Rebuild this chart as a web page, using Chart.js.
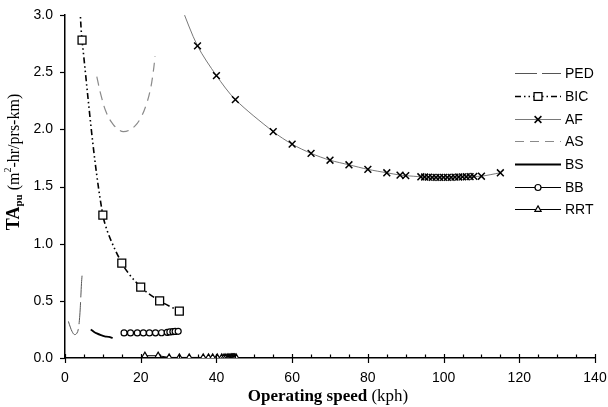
<!DOCTYPE html>
<html><head><meta charset="utf-8">
<script src="https://cdn.jsdelivr.net/npm/chart.js@4/dist/chart.umd.min.js"></script>
<style>html,body{margin:0;padding:0;background:#fff}#wrap{width:608px;height:407px;position:relative}</style>
</head><body><div id="wrap"><canvas id="c"></canvas></div>
<script>
// ---- data ----
const seriesNames = ['PED','BIC','AF','AS','BS','BB','RRT'];
const pedX = [0.9,1.4,1.9,2.5,3.1,3.5,3.8,4.0,4.2,4.35,4.5];
const pedY = [0.32,0.27,0.23,0.205,0.215,0.25,0.33,0.42,0.55,0.65,0.72];
const bicX = [3.9,4.5,10,15,20,25,30.2];
const bicY = [3.1,2.78,1.25,0.83,0.62,0.50,0.41];
const bicMarker = [false,true,true,true,true,true,true];
const afX = [30.6,35,40,45,55,60,65,70,75,80,85,88.5,90,94,95,96,97,98,99,100,101,102,103,104,105,106,107,108,110,115];
const afY = [3.08,2.73,2.47,2.26,1.98,1.87,1.79,1.73,1.69,1.65,1.62,1.60,1.595,1.585,1.583,1.582,1.58,1.58,1.58,1.58,1.58,1.58,1.582,1.583,1.584,1.585,1.586,1.588,1.59,1.62];
const afMarker = [false,true,true,true,true,true,true,true,true,true,true,true,true,true,true,true,true,true,true,true,true,true,true,true,true,true,true,true,true,true];
const asX = [8.4,9.5,11.0,12.8,14.5,15.4,16.8,18.5,20.0,21.3,22.5,23.3,23.8];
const asY = [2.46,2.30,2.14,2.04,1.99,1.98,1.99,2.03,2.10,2.20,2.34,2.50,2.64];
const bsX = [6.8,7.6,8.4,9.5,10.5,11.6,12.6];
const bsY = [0.25,0.23,0.215,0.20,0.19,0.185,0.175];
const bbX = [15.6,17.3,19.1,20.7,22.3,23.9,25.5,27.0,27.7,28.5,29.1,29.9];
const bbY = [0.219,0.219,0.219,0.219,0.219,0.22,0.221,0.225,0.228,0.23,0.232,0.233];
const rrtX = [21.1,24.6,27.5,30.2,32.8,36.5,37.9,39.0,40.2,41.4,42.0,42.5,43.0,43.3,43.6,43.9,44.1,44.3,44.5,44.7,44.9,45.2];
const rrtY = [0.02,0.02,0.005,0.005,0.005,0.005,0.005,0.005,0.005,0.005,0.005,0.005,0.005,0.005,0.005,0.005,0.005,0.005,0.005,0.005,0.005,0.005];
const xTicksMajor = [0,20,40,60,80,100,120,140];
const yTicks = [0,0.5,1.0,1.5,2.0,2.5,3.0];

const pts = (xs, ys) => xs.map((x, i) => ({x, y: ys[i]}));

const datasets = [
  {label:'PED', data:pts(pedX,pedY), borderColor:'#555', borderWidth:1, borderDash:[22,5], pointRadius:0, tension:0.4},
  {label:'BIC', data:pts(bicX,bicY), borderColor:'#000', borderWidth:1.6, borderDash:[6,3,1.5,3,1.5,3], pointStyle:'rect',
   pointRadius:bicMarker.map(m=>m?5.6:0), backgroundColor:'#fff', pointBackgroundColor:'#fff', pointBorderColor:'#000', pointBorderWidth:1.3, tension:0.3},
  {label:'AF', data:pts(afX,afY), borderColor:'#555', borderWidth:0.8, pointStyle:'crossRot',
   pointRadius:afMarker.map(m=>m?4.8:0), pointBorderColor:'#000', pointBorderWidth:1.5, tension:0.3},
  {label:'AS', data:pts(asX,asY), borderColor:'#8a8a8a', borderWidth:1.2, borderDash:[9,6], pointRadius:0, tension:0.4},
  {label:'BS', data:pts(bsX,bsY), borderColor:'#000', borderWidth:1.8, pointRadius:0, tension:0.4},
  {label:'BB', data:pts(bbX,bbY), borderColor:'#000', borderWidth:1, pointStyle:'circle', pointRadius:3,
   pointBackgroundColor:'#fff', backgroundColor:'#fff', pointBorderColor:'#000', pointBorderWidth:1.2},
  {label:'RRT', data:pts(rrtX,rrtY), borderColor:'#000', borderWidth:1, pointStyle:'triangle', pointRadius:3.6,
   pointBackgroundColor:'#fff', backgroundColor:'#fff', pointBorderColor:'#000', pointBorderWidth:1.2}
];
datasets.forEach(d => { d.showLine = true; d.fill = false; });

const AXIS_LEFT = 65, AXIS_BOTTOM_H = 49;

const decorPlugin = {
  id: 'decor',
  afterDraw(chart) {
    const ctx = chart.ctx, xs = chart.scales.x, ys = chart.scales.y, ca = chart.chartArea;
    ctx.save();
    ctx.strokeStyle = '#000'; ctx.lineWidth = 1.2;
    for (let v = 0; v <= 140; v += 5) {
      const px = Math.round(xs.getPixelForValue(v)) + 0.5;
      const major = xTicksMajor.includes(v);
      ctx.beginPath();
      ctx.moveTo(px, ca.bottom - (major ? 4 : 3.5));
      ctx.lineTo(px, ca.bottom + (major ? 5 : 0));
      ctx.stroke();
    }
    yTicks.forEach(v => {
      const py = Math.round(ys.getPixelForValue(v)) + 0.5;
      ctx.beginPath(); ctx.moveTo(ca.left - 5, py); ctx.lineTo(ca.left, py); ctx.stroke();
    });
    // legend
    const lx0 = 515, lx1 = 561, tx = 565;
    const ly = [73, 96, 119, 141, 164, 187, 209];
    ctx.font = '14px "Liberation Sans", Arial, sans-serif';
    ctx.textBaseline = 'middle'; ctx.textAlign = 'left';
    datasets.forEach((d, i) => {
      const y = ly[i] + 0.5;
      ctx.save();
      ctx.strokeStyle = d.borderColor; ctx.lineWidth = d.borderWidth;
      ctx.setLineDash(d.borderDash || []);
      ctx.beginPath(); ctx.moveTo(lx0, y); ctx.lineTo(lx1, y); ctx.stroke();
      ctx.restore();
      if (d.pointStyle) {
        const r = Array.isArray(d.pointRadius) ? Math.max(...d.pointRadius) : d.pointRadius;
        ctx.save();
        ctx.fillStyle = d.pointBackgroundColor || '#fff';
        ctx.strokeStyle = d.pointBorderColor || '#000';
        ctx.lineWidth = d.pointBorderWidth || 1;
        Chart.helpers.drawPoint(ctx, {pointStyle: d.pointStyle, radius: r, borderWidth: d.pointBorderWidth, rotation: 0}, 538, y);
        ctx.restore();
      }
      ctx.fillStyle = '#000';
      ctx.fillText(d.label, tx, y + 1);
    });
    // x title
    const f1 = 'bold 17px "Liberation Serif", "DejaVu Serif", serif';
    const f2 = '17px "Liberation Serif", "DejaVu Serif", serif';
    ctx.textBaseline = 'alphabetic';
    ctx.font = f1; const w1 = ctx.measureText('Operating speed ').width;
    ctx.font = f2; const w2 = ctx.measureText('(kph)').width;
    let sx = 328 - (w1 + w2) / 2;
    ctx.font = f1; ctx.fillText('Operating speed ', sx, 401);
    ctx.font = f2; ctx.fillText('(kph)', sx + w1, 401);
    // y title (rotated)
    ctx.save();
    ctx.translate(19, 162);
    ctx.rotate(-Math.PI / 2);
    const parts = [
      {t:'TA', f:'bold 18px "Liberation Serif", serif', dy:0},
      {t:'pu', f:'bold 11px "Liberation Serif", serif', dy:3},
      {t:' (m', f:'16px "Liberation Serif", serif', dy:0},
      {t:'2', f:'10px "Liberation Serif", serif', dy:-8},
      {t:'-hr/prs-km)', f:'16px "Liberation Serif", serif', dy:0}
    ];
    let total = 0;
    parts.forEach(p => { ctx.font = p.f; p.w = ctx.measureText(p.t).width; total += p.w; });
    let cx = -total / 2;
    parts.forEach(p => { ctx.font = p.f; ctx.fillText(p.t, cx, p.dy); cx += p.w; });
    ctx.restore();
    ctx.restore();
  }
};

new Chart(document.getElementById('c'), {
  type: 'scatter',
  data: { datasets },
  options: {
    responsive: true, maintainAspectRatio: false, animation: false,
    layout: { padding: { top: 15, right: 13, left: 0, bottom: 0 } },
    plugins: { legend: { display: false }, tooltip: { enabled: false } },
    scales: {
      x: {
        type: 'linear', min: 0, max: 140,
        grid: { display: false, drawTicks: false },
        border: { display: true, color: '#000', width: 1.5 },
        ticks: { stepSize: 20, padding: 12, color: '#000', font: { family: '"Liberation Sans", Arial, sans-serif', size: 14 }, maxRotation: 0 },
        afterFit(s) { s.height = AXIS_BOTTOM_H; s.paddingLeft = 0; s.paddingRight = 0; }
      },
      y: {
        type: 'linear', min: 0, max: 3,
        grid: { display: false, drawTicks: false },
        border: { display: true, color: '#000', width: 1.5 },
        ticks: { stepSize: 0.5, padding: 12, color: '#000', font: { family: '"Liberation Sans", Arial, sans-serif', size: 14 }, callback: v => v.toFixed(1) },
        afterFit(s) { s.width = AXIS_LEFT; s.paddingTop = 0; s.paddingBottom = 0; }
      }
    }
  },
  plugins: [decorPlugin]
});
</script>
</body></html>
